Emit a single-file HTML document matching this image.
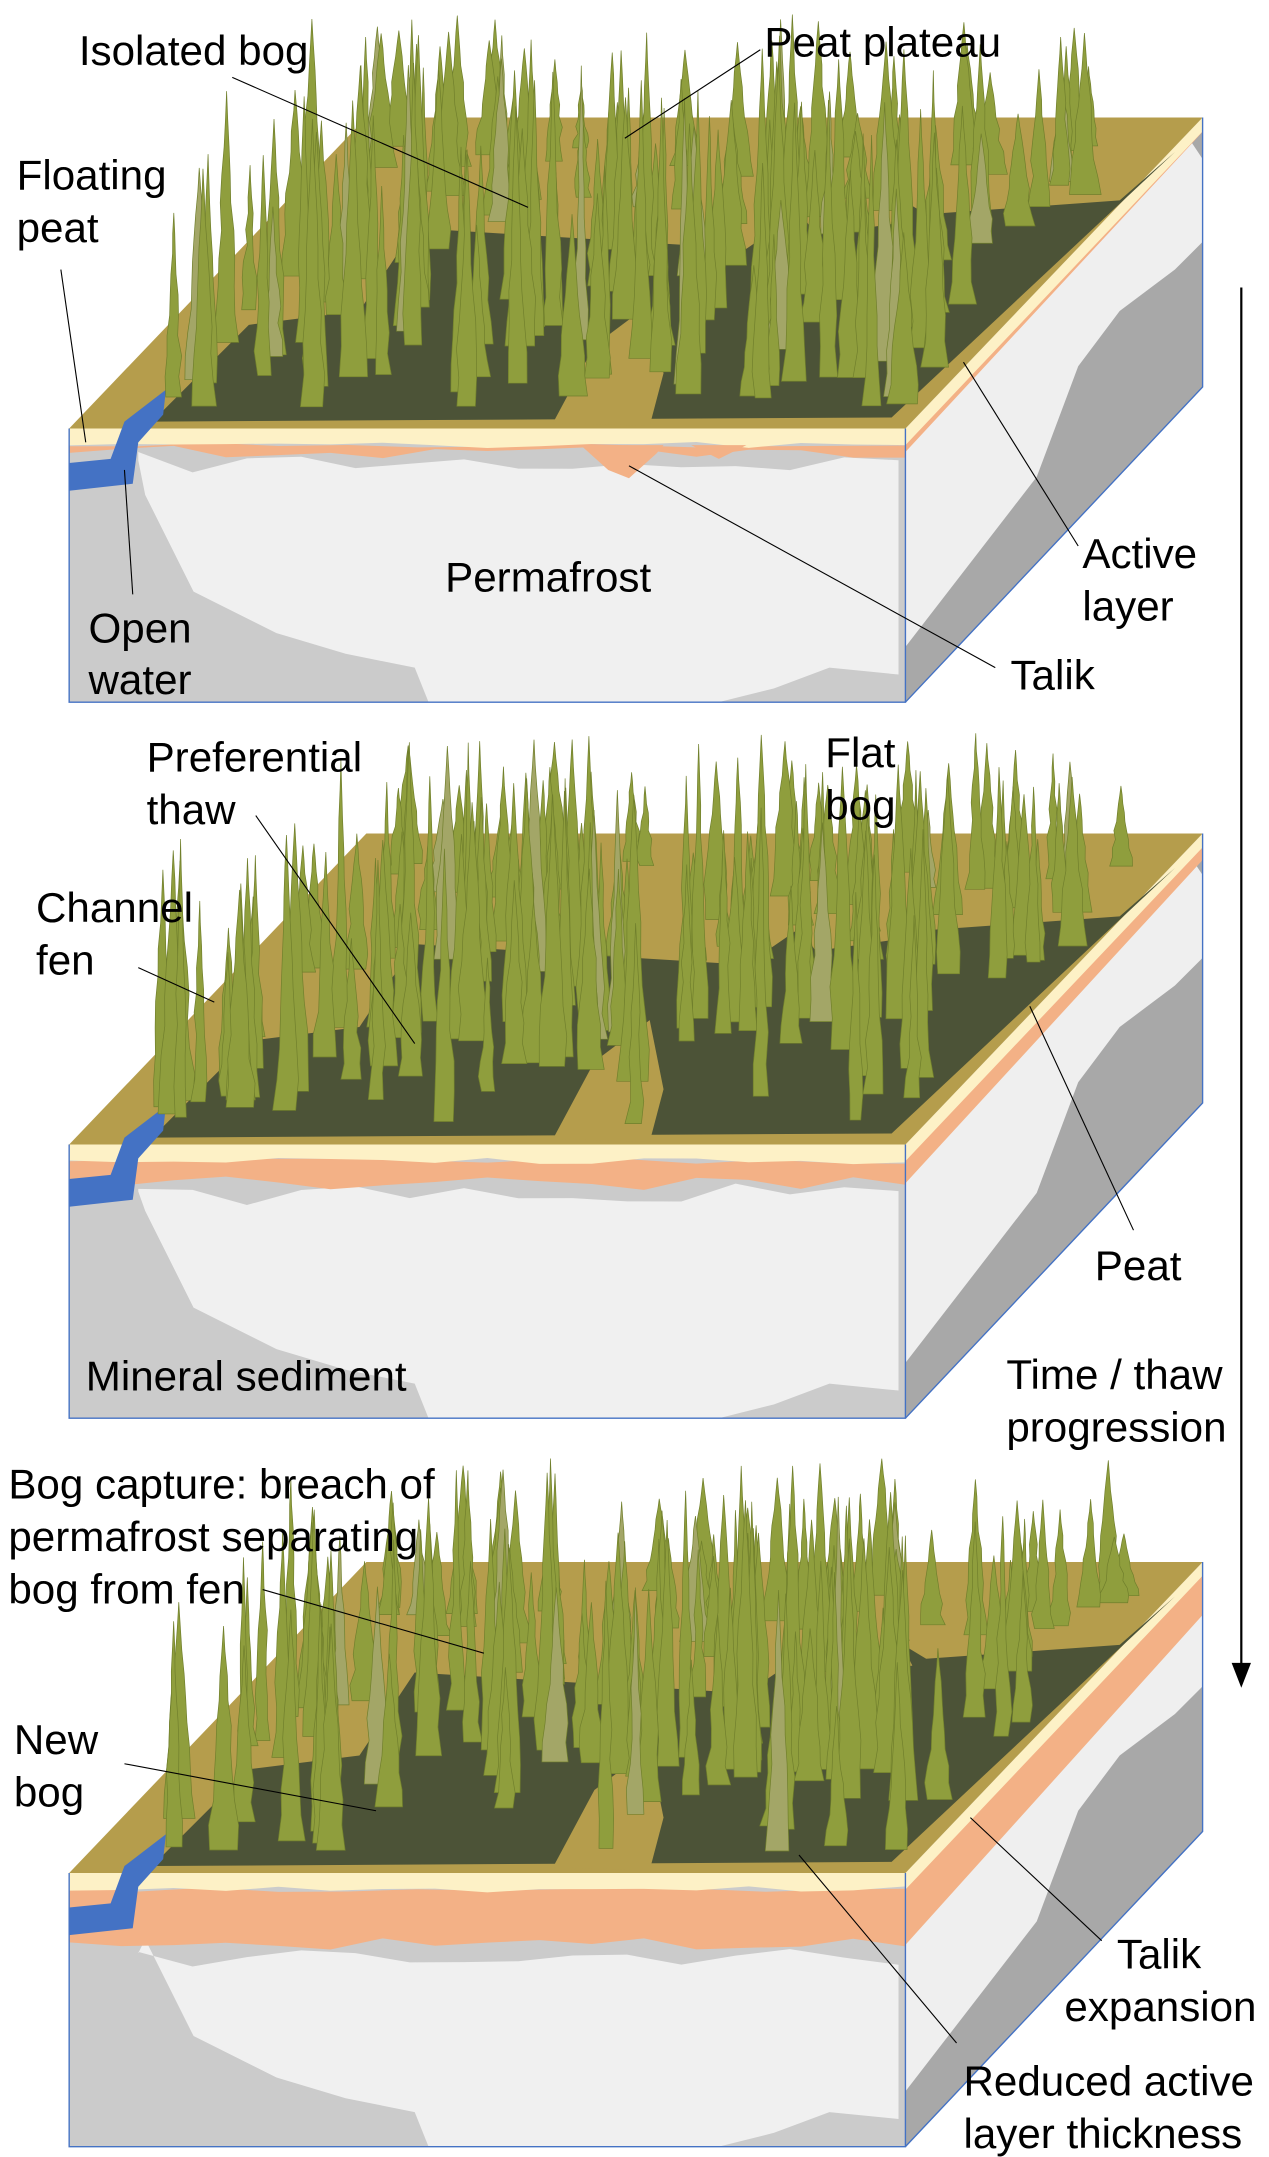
<!DOCTYPE html>
<html><head><meta charset="utf-8"><style>
html,body{margin:0;padding:0;background:#fff}
svg{display:block}
text{font-family:"Liberation Sans",sans-serif;font-size:30.5px;fill:#000}
</style></head><body>
<svg id="s" width="1269" height="2157" viewBox="0 0 918 1560.5" xmlns="http://www.w3.org/2000/svg">
<g id="blocks"></g>
<g id="labels" stroke="#000" stroke-width="0.8" fill="none">
<line x1="168" y1="56" x2="382" y2="150"/>
<line x1="550" y1="36" x2="452" y2="100"/>
<line x1="44" y1="195" x2="62" y2="320"/>
<line x1="90" y1="340" x2="96" y2="430"/>
<line x1="455" y1="337" x2="720" y2="483"/>
<line x1="697" y1="262" x2="780" y2="395"/>
<line x1="185" y1="590" x2="300" y2="755"/>
<line x1="100" y1="700" x2="155" y2="725"/>
<line x1="745" y1="728" x2="820" y2="890"/>
<line x1="190" y1="1150" x2="350" y2="1196"/>
<line x1="90" y1="1276" x2="272" y2="1310"/>
<line x1="702" y1="1315" x2="797" y2="1404"/>
<line x1="578" y1="1342" x2="692" y2="1478"/>
<line x1="898" y1="208" x2="898" y2="1205" stroke-width="1.6"/>
</g>
<polygon points="891,1203 905,1203 898,1221" fill="#000"/>
<g id="txt">
<text x="57" y="47">Isolated bog</text>
<text x="553" y="41">Peat plateau</text>
<text x="12" y="137">Floating</text>
<text x="12" y="175">peat</text>
<text x="64" y="465">Open</text>
<text x="64" y="502">water</text>
<text x="322" y="428">Permafrost</text>
<text x="783" y="411">Active</text>
<text x="783" y="449">layer</text>
<text x="731" y="499">Talik</text>
<text x="106" y="558">Preferential</text>
<text x="106" y="596">thaw</text>
<text x="597" y="555">Flat</text>
<text x="597" y="593">bog</text>
<text x="26" y="667">Channel</text>
<text x="26" y="705">fen</text>
<text x="792" y="926">Peat</text>
<text x="62" y="1006">Mineral sediment</text>
<text x="728" y="1005">Time / thaw</text>
<text x="728" y="1043">progression</text>
<text x="6" y="1084">Bog capture: breach of</text>
<text x="6" y="1122">permafrost separating</text>
<text x="6" y="1160">bog from fen</text>
<text x="10" y="1269">New</text>
<text x="10" y="1307">bog</text>
<text x="808" y="1424">Talik</text>
<text x="770" y="1462">expansion</text>
<text x="697" y="1516">Reduced active</text>
<text x="697" y="1554">layer thickness</text>
</g>
</svg>
<script>
var NS="http://www.w3.org/2000/svg",G=document.getElementById("blocks");
var seed=7;function r(){seed=(seed*16807)%2147483647;return seed/2147483647;}
function el(t,a){var e=document.createElementNS(NS,t);for(var k in a)e.setAttribute(k,a[k]);G.appendChild(e);return e;}
function P(pts,f,extra){var a={points:pts.map(function(p){return p[0].toFixed(1)+","+p[1].toFixed(1)}).join(" "),fill:f};for(var k in extra)a[k]=extra[k];return el("polygon",a);}
function jag(x0,x1,y,amp,n){var pts=[];for(var i=0;i<=n;i++){pts.push([x0+(x1-x0)*i/n,y+(r()-0.5)*amp]);}return pts;}
function block(oy,peat,water){
 var T=310+oy,B=508+oy,BT=85+oy,BB=280+oy,L=50,R=655,BR=870,BL=265;
 P([[L,T],[R,T],[R,B],[L,B]],"#cbcbcb");
 P([[R,T],[BR,BT],[BR,BB],[R,B]],"#a8a8a8");
 var pf=[[100,T+20+peat]];pf=pf.concat(jag(100,650,T+22+peat,16,14));
 pf.push([650,B-20],[600,B-25],[560,B-10],[520,B],[310,B],[300,B-25],[250,B-35],[200,B-50],[140,B-80],[105,B-150]);
 P(pf,"#f0f0f0");
 P([[R,T+10],[BR-10,BT+15],[BR,BT+30],[BR,BT+90],[BR-20,BT+110],[BR-60,BT+140],[BR-90,BT+180],[BR-120,BT+260],[R,B-40]],"#efefef");
 var sp=[[L,T]].concat(jag(L,R,T+12,4,12)).concat([[R,T+8],[BR,BT+8],[BR,BT+8+peat*0.8],[R,T+14+peat]]);
 sp=sp.concat(jag(R,L,T+14+peat,10,16));
 P(sp,"#f3b186");
 P([[L,T]].concat([[R,T],[BR,BT],[BR,BT+10],[R,T+12]]).concat(jag(R,L,T+12,5,16)),"#fdf1c6");
 if(peat<5){P([[420,T+12],[440,T+30],[455,T+36],[475,T+18],[480,T+12]],"#f3b186");P([[500,T+12],[520,T+22],[540,T+12]],"#f3b186");}
 P([[L,T],[R,T],[BR,BT],[BL,BT]],"#b59d4c");
 var dk=[[110,T-5],[R-10,T-8],[BR-20,BT+25],[BR-60,BT+60],[BR-200,BT+70],[BR-250,BT+40],[BR-330,BT+95],[300,BT+80],[260,BT+140],[180,BT+150]];
 P(dk,"#4c5337");
 P([[400,T-4],[430,T-60],[470,T-90],[480,T-40],[470,T-2]],"#b59d4c");
 P([[560,BT+40],[640,BT+35],[660,BT+75],[590,BT+85]],"#b59d4c");
 el("polyline",{points:L+","+T+" "+L+","+B+" "+R+","+B+" "+R+","+T,fill:"none",stroke:"#4472c4","stroke-width":1});
 el("polyline",{points:R+","+B+" "+BR+","+BB+" "+BR+","+BT,fill:"none",stroke:"#4472c4","stroke-width":1});
 if(water){P([[L,T+25],[80,T+22],[90,T-5],[120,T-28],[118,T-10],[100,T+10],[96,T+40],[L,T+45]],"#4472c4");}
 var trees=[];
 for(var i=0;i<150;i++){
  var v=r(),u=r();
  var by=BT+20+(T-BT-35)*v;
  var xl=L+(BL-L)*(1-(by-BT)/(T-BT))+40, xr=R+(BR-R)*(1-(by-BT)/(T-BT))-15;
  var bx=xl+(xr-xl)*u;
  trees.push([bx,by]);
 }
 trees.sort(function(a,b){return a[1]-b[1];});
 trees.forEach(function(tb){
  var bx=tb[0],by=tb[1];
  var hmax=Math.min(210,by-(BT-75));
  var h=hmax*(0.45+r()*0.55), w=3+r()*6;
  var pts=[],segs=9;
  for(var k=0;k<segs;k++){var t=k/segs;pts.push([bx-w*(1-t)-r()*4*(1-t),by-h*t]);}
  pts.push([bx,by-h]);
  for(var k=segs-1;k>=0;k--){var t=k/segs;pts.push([bx+w*(1-t)+r()*4*(1-t),by-h*t]);}
  var c=r()<0.07?"#a3a667":"#8f9e3d";
  P(pts,c,{stroke:"#707f2c","stroke-width":0.5});
 });
}
block(0,3,true);block(518,14,true);block(1045,38,true);
</script>
</body></html>
